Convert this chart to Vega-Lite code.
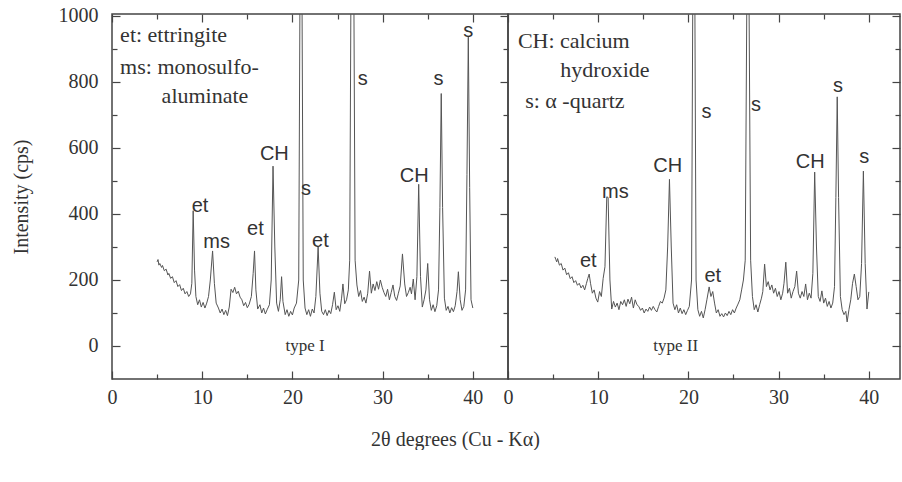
{
  "$schema": "https://vega.github.io/schema/vega-lite/v6.json",
  "background": "white",
  "padding": {"left": 10, "top": 5, "right": 0, "bottom": 0},
  "bounds": "flush",
  "spacing": 0,
  "config": {
    "view": {"stroke": "#444", "strokeWidth": 1.5},
    "axis": {"labelFont": "Liberation Serif", "labelFontSize": 20, "labelColor": "#333", "titleFont": "Liberation Serif", "titleFontSize": 20, "titleFontWeight": "normal", "titleColor": "#333", "domain": false, "grid": false, "tickColor": "#444", "tickWidth": 1.2, "labelFlush": false, "labelOverlap": false}
  },
  "datasets": {
    "t1": [
      {"x":5.0,"y":255},{"x":5.1,"y":262},{"x":5.2,"y":245},{"x":5.3,"y":250},{"x":5.5,"y":238},{"x":5.6,"y":244},{"x":5.8,"y":228},{"x":6.0,"y":233},{"x":6.2,"y":215},{"x":6.3,"y":220},{"x":6.5,"y":205},{"x":6.7,"y":210},{"x":6.9,"y":192},{"x":7.1,"y":198},{"x":7.3,"y":180},{"x":7.5,"y":186},{"x":7.7,"y":168},{"x":7.9,"y":175},{"x":8.1,"y":158},{"x":8.3,"y":165},{"x":8.5,"y":150},{"x":8.7,"y":158},{"x":8.85,"y":190},{"x":9.0,"y":410},{"x":9.15,"y":230},{"x":9.3,"y":150},{"x":9.5,"y":125},{"x":9.7,"y":140},{"x":9.9,"y":118},{"x":10.1,"y":132},{"x":10.3,"y":115},{"x":10.5,"y":130},{"x":10.7,"y":150},{"x":10.9,"y":200},{"x":11.15,"y":288},{"x":11.35,"y":190},{"x":11.55,"y":130},{"x":11.8,"y":115},{"x":12.0,"y":100},{"x":12.2,"y":112},{"x":12.4,"y":95},{"x":12.6,"y":108},{"x":12.8,"y":92},{"x":13.0,"y":118},{"x":13.2,"y":172},{"x":13.4,"y":162},{"x":13.6,"y":178},{"x":13.8,"y":158},{"x":14.0,"y":166},{"x":14.2,"y":148},{"x":14.4,"y":140},{"x":14.6,"y":122},{"x":14.8,"y":132},{"x":15.0,"y":116},{"x":15.2,"y":126},{"x":15.45,"y":150},{"x":15.65,"y":220},{"x":15.8,"y":288},{"x":15.95,"y":170},{"x":16.15,"y":112},{"x":16.4,"y":125},{"x":16.6,"y":100},{"x":16.8,"y":115},{"x":17.0,"y":97},{"x":17.2,"y":110},{"x":17.45,"y":125},{"x":17.65,"y":200},{"x":17.85,"y":545},{"x":18.05,"y":300},{"x":18.25,"y":130},{"x":18.45,"y":105},{"x":18.65,"y":140},{"x":18.8,"y":210},{"x":18.95,"y":135},{"x":19.2,"y":95},{"x":19.4,"y":110},{"x":19.6,"y":90},{"x":19.8,"y":105},{"x":20.0,"y":94},{"x":20.2,"y":115},{"x":20.45,"y":130},{"x":20.7,"y":200},{"x":20.85,"y":1150},{"x":21.05,"y":1150},{"x":21.2,"y":200},{"x":21.4,"y":115},{"x":21.6,"y":95},{"x":21.8,"y":110},{"x":22.0,"y":90},{"x":22.2,"y":112},{"x":22.4,"y":100},{"x":22.6,"y":150},{"x":22.85,"y":300},{"x":23.05,"y":160},{"x":23.25,"y":105},{"x":23.45,"y":95},{"x":23.65,"y":110},{"x":23.85,"y":92},{"x":24.05,"y":108},{"x":24.25,"y":98},{"x":24.45,"y":125},{"x":24.65,"y":163},{"x":24.85,"y":110},{"x":25.05,"y":122},{"x":25.25,"y":105},{"x":25.45,"y":145},{"x":25.6,"y":188},{"x":25.8,"y":128},{"x":26.0,"y":140},{"x":26.2,"y":170},{"x":26.35,"y":260},{"x":26.5,"y":1150},{"x":26.8,"y":1150},{"x":26.95,"y":260},{"x":27.15,"y":185},{"x":27.35,"y":150},{"x":27.55,"y":168},{"x":27.75,"y":135},{"x":27.95,"y":148},{"x":28.15,"y":130},{"x":28.35,"y":160},{"x":28.55,"y":227},{"x":28.75,"y":160},{"x":28.95,"y":188},{"x":29.15,"y":168},{"x":29.35,"y":195},{"x":29.55,"y":172},{"x":29.75,"y":200},{"x":29.95,"y":178},{"x":30.15,"y":162},{"x":30.35,"y":150},{"x":30.55,"y":172},{"x":30.75,"y":140},{"x":30.95,"y":162},{"x":31.15,"y":185},{"x":31.35,"y":150},{"x":31.55,"y":138},{"x":31.75,"y":160},{"x":31.95,"y":182},{"x":32.2,"y":279},{"x":32.45,"y":188},{"x":32.65,"y":150},{"x":32.85,"y":162},{"x":33.05,"y":178},{"x":33.2,"y":158},{"x":33.4,"y":203},{"x":33.6,"y":140},{"x":33.8,"y":210},{"x":34.0,"y":490},{"x":34.2,"y":210},{"x":34.4,"y":118},{"x":34.6,"y":140},{"x":34.8,"y":170},{"x":35.0,"y":250},{"x":35.2,"y":140},{"x":35.4,"y":108},{"x":35.6,"y":125},{"x":35.8,"y":104},{"x":36.0,"y":122},{"x":36.2,"y":170},{"x":36.35,"y":420},{"x":36.5,"y":765},{"x":36.65,"y":420},{"x":36.85,"y":145},{"x":37.05,"y":108},{"x":37.25,"y":120},{"x":37.45,"y":100},{"x":37.65,"y":116},{"x":37.85,"y":104},{"x":38.05,"y":122},{"x":38.25,"y":165},{"x":38.4,"y":225},{"x":38.6,"y":140},{"x":38.8,"y":108},{"x":39.0,"y":120},{"x":39.2,"y":170},{"x":39.35,"y":520},{"x":39.5,"y":936},{"x":39.65,"y":480},{"x":39.8,"y":140},{"x":40.0,"y":115}
    ],
    "t2": [
      {"x":5.2,"y":270},{"x":5.3,"y":262},{"x":5.4,"y":255},{"x":5.5,"y":265},{"x":5.7,"y":245},{"x":5.9,"y":250},{"x":6.1,"y":230},{"x":6.3,"y":236},{"x":6.5,"y":216},{"x":6.7,"y":222},{"x":6.9,"y":204},{"x":7.1,"y":210},{"x":7.3,"y":192},{"x":7.5,"y":198},{"x":7.7,"y":184},{"x":7.9,"y":190},{"x":8.1,"y":176},{"x":8.3,"y":184},{"x":8.5,"y":170},{"x":8.7,"y":190},{"x":8.85,"y":205},{"x":9.0,"y":218},{"x":9.15,"y":190},{"x":9.35,"y":160},{"x":9.55,"y":170},{"x":9.75,"y":145},{"x":9.95,"y":133},{"x":10.15,"y":165},{"x":10.35,"y":150},{"x":10.55,"y":205},{"x":10.75,"y":240},{"x":10.95,"y":452},{"x":11.1,"y":450},{"x":11.3,"y":200},{"x":11.5,"y":112},{"x":11.7,"y":135},{"x":11.9,"y":118},{"x":12.1,"y":130},{"x":12.3,"y":110},{"x":12.5,"y":135},{"x":12.7,"y":125},{"x":12.9,"y":140},{"x":13.1,"y":120},{"x":13.3,"y":142},{"x":13.5,"y":128},{"x":13.7,"y":148},{"x":13.9,"y":115},{"x":14.1,"y":140},{"x":14.3,"y":125},{"x":14.5,"y":120},{"x":14.7,"y":108},{"x":14.9,"y":115},{"x":15.1,"y":100},{"x":15.3,"y":112},{"x":15.5,"y":105},{"x":15.7,"y":118},{"x":15.9,"y":108},{"x":16.1,"y":120},{"x":16.3,"y":110},{"x":16.5,"y":103},{"x":16.7,"y":120},{"x":16.9,"y":135},{"x":17.1,"y":130},{"x":17.3,"y":145},{"x":17.5,"y":170},{"x":17.7,"y":300},{"x":17.9,"y":505},{"x":18.1,"y":300},{"x":18.3,"y":130},{"x":18.5,"y":110},{"x":18.7,"y":125},{"x":18.9,"y":100},{"x":19.1,"y":115},{"x":19.3,"y":98},{"x":19.5,"y":110},{"x":19.7,"y":95},{"x":19.9,"y":108},{"x":20.1,"y":120},{"x":20.35,"y":200},{"x":20.5,"y":1150},{"x":20.7,"y":1150},{"x":20.85,"y":200},{"x":21.05,"y":110},{"x":21.25,"y":90},{"x":21.45,"y":105},{"x":21.65,"y":85},{"x":21.85,"y":110},{"x":22.05,"y":140},{"x":22.3,"y":179},{"x":22.5,"y":150},{"x":22.7,"y":165},{"x":22.9,"y":130},{"x":23.1,"y":100},{"x":23.3,"y":110},{"x":23.5,"y":90},{"x":23.7,"y":98},{"x":23.9,"y":88},{"x":24.1,"y":100},{"x":24.3,"y":92},{"x":24.5,"y":105},{"x":24.7,"y":95},{"x":24.9,"y":110},{"x":25.1,"y":100},{"x":25.3,"y":115},{"x":25.5,"y":127},{"x":25.7,"y":140},{"x":25.9,"y":170},{"x":26.1,"y":200},{"x":26.3,"y":260},{"x":26.5,"y":1150},{"x":26.7,"y":1150},{"x":26.9,"y":260},{"x":27.1,"y":150},{"x":27.3,"y":110},{"x":27.5,"y":125},{"x":27.7,"y":103},{"x":27.9,"y":125},{"x":28.1,"y":145},{"x":28.25,"y":165},{"x":28.45,"y":248},{"x":28.65,"y":180},{"x":28.85,"y":195},{"x":29.05,"y":170},{"x":29.25,"y":185},{"x":29.45,"y":160},{"x":29.65,"y":175},{"x":29.85,"y":150},{"x":30.05,"y":165},{"x":30.25,"y":140},{"x":30.45,"y":160},{"x":30.6,"y":190},{"x":30.8,"y":254},{"x":31.0,"y":160},{"x":31.2,"y":175},{"x":31.4,"y":145},{"x":31.6,"y":165},{"x":31.8,"y":180},{"x":32.0,"y":227},{"x":32.2,"y":160},{"x":32.4,"y":145},{"x":32.6,"y":165},{"x":32.8,"y":150},{"x":33.0,"y":188},{"x":33.2,"y":140},{"x":33.4,"y":160},{"x":33.6,"y":145},{"x":33.8,"y":220},{"x":34.0,"y":527},{"x":34.2,"y":300},{"x":34.4,"y":150},{"x":34.6,"y":135},{"x":34.8,"y":167},{"x":35.0,"y":130},{"x":35.2,"y":145},{"x":35.4,"y":120},{"x":35.6,"y":135},{"x":35.8,"y":115},{"x":36.0,"y":130},{"x":36.2,"y":180},{"x":36.35,"y":450},{"x":36.5,"y":755},{"x":36.65,"y":450},{"x":36.85,"y":150},{"x":37.05,"y":110},{"x":37.25,"y":95},{"x":37.45,"y":105},{"x":37.6,"y":73},{"x":37.8,"y":110},{"x":38.0,"y":140},{"x":38.2,"y":190},{"x":38.4,"y":218},{"x":38.6,"y":180},{"x":38.8,"y":140},{"x":39.0,"y":150},{"x":39.2,"y":250},{"x":39.4,"y":530},{"x":39.6,"y":250},{"x":39.8,"y":112},{"x":40.0,"y":164}
    ],
    "p1": [
      {"x":9.76,"y":424,"t":"et"},{"x":11.6,"y":315,"t":"ms"},{"x":15.9,"y":355,"t":"et"},{"x":18.0,"y":582,"t":"CH"},{"x":21.5,"y":476,"t":"s"},{"x":23.1,"y":318,"t":"et"},{"x":27.8,"y":809,"t":"s"},{"x":33.5,"y":515,"t":"CH"},{"x":36.2,"y":809,"t":"s"},{"x":39.5,"y":955,"t":"s"}
    ],
    "p2": [
      {"x":8.9,"y":258,"t":"et"},{"x":11.9,"y":467,"t":"ms"},{"x":17.7,"y":545,"t":"CH"},{"x":22.0,"y":709,"t":"s"},{"x":22.7,"y":212,"t":"et"},{"x":27.5,"y":730,"t":"s"},{"x":33.5,"y":557,"t":"CH"},{"x":36.6,"y":788,"t":"s"},{"x":39.5,"y":573,"t":"s"}
    ],
    "l1": [
      {"x":0.9,"y":942,"t":"et: ettringite"},{"x":0.9,"y":845,"t":"ms: monosulfo-"},{"x":5.5,"y":758,"t":"aluminate"}
    ],
    "l2": [
      {"x":1.1,"y":924,"t":"CH: calcium"},{"x":5.8,"y":836,"t":"hydroxide"},{"x":1.9,"y":742,"t":"s: α -quartz"}
    ],
    "n1": [{"x":21.4,"y":0,"t":"type I"}],
    "n2": [{"x":18.6,"y":0,"t":"type II"}]
  },
  "hconcat": [
    {
      "width": 396,
      "height": 365,
      "layer": [
        {
          "data": {"name": "t1"},
          "mark": {"type": "line", "color": "#555", "strokeWidth": 1, "clip": true},
          "encoding": {
            "x": {"field": "x", "type": "quantitative", "scale": {"domain": [0, 43.9], "nice": false, "zero": false},
              "axis": {"orient": "bottom", "title": "2θ degrees (Cu - Kα)", "titleX": 343, "titleY": 60, "titleAlign": "center", "titleBaseline": "middle", "values": [0,5,10,15,20,25,30,35,40], "labelExpr": "datum.value % 10 === 0 ? datum.label : ''", "tickSize": {"condition": {"test": "datum.value % 10 === 0", "value": -8}, "value": -5}, "labelPadding": 16}},
            "y": {"field": "y", "type": "quantitative", "scale": {"domain": [-100, 1006], "nice": false, "zero": false},
              "axis": {"orient": "left", "title": "Intensity (cps)", "format": "d", "values": [0,100,200,300,400,500,600,700,800,900,1000], "labelExpr": "datum.value % 200 === 0 ? datum.label : ''", "tickSize": {"condition": {"test": "datum.value % 200 === 0", "value": -8}, "value": -5}, "labelPadding": 22, "titlePadding": 27}}
          }
        },
        {
          "data": {"name": "t1"},
          "mark": {"type": "line", "opacity": 0, "clip": true},
          "encoding": {
            "x": {"field": "x", "type": "quantitative", "axis": {"orient": "top", "title": null, "labels": false, "values": [0,5,10,15,20,25,30,35,40], "tickSize": {"condition": {"test": "datum.value % 10 === 0", "value": -8}, "value": -5}}},
            "y": {"field": "y", "type": "quantitative", "axis": {"orient": "right", "title": null, "labels": false, "values": [0,100,200,300,400,500,600,700,800,900,1000], "tickSize": {"condition": {"test": "datum.value % 200 === 0", "value": -8}, "value": -5}}}
          }
        },
        {
          "data": {"name": "p1"},
          "mark": {"type": "text", "font": "Liberation Sans", "fontSize": 20, "color": "#333", "align": "center", "baseline": "middle"},
          "encoding": {
            "x": {"field": "x", "type": "quantitative", "axis": null},
            "y": {"field": "y", "type": "quantitative", "axis": null},
            "text": {"field": "t"}
          }
        },
        {
          "data": {"name": "l1"},
          "mark": {"type": "text", "font": "Liberation Serif", "fontSize": 22, "color": "#333", "align": "left", "baseline": "middle"},
          "encoding": {
            "x": {"field": "x", "type": "quantitative", "axis": null},
            "y": {"field": "y", "type": "quantitative", "axis": null},
            "text": {"field": "t"}
          }
        },
        {
          "data": {"name": "n1"},
          "mark": {"type": "text", "font": "Liberation Serif", "fontSize": 17, "color": "#333", "align": "center", "baseline": "middle"},
          "encoding": {
            "x": {"field": "x", "type": "quantitative", "axis": null},
            "y": {"field": "y", "type": "quantitative", "axis": null},
            "text": {"field": "t"}
          }
        }
      ],
      "resolve": {"axis": {"x": "independent", "y": "independent"}}
    },
    {
      "width": 392,
      "height": 365,
      "layer": [
        {
          "data": {"name": "t2"},
          "mark": {"type": "line", "color": "#555", "strokeWidth": 1, "clip": true},
          "encoding": {
            "x": {"field": "x", "type": "quantitative", "scale": {"domain": [0, 43.46], "nice": false, "zero": false},
              "axis": {"orient": "bottom", "title": null, "values": [0,5,10,15,20,25,30,35,40], "labelExpr": "datum.value % 10 === 0 ? datum.label : ''", "tickSize": {"condition": {"test": "datum.value % 10 === 0", "value": -8}, "value": -5}, "labelPadding": 16}},
            "y": {"field": "y", "type": "quantitative", "scale": {"domain": [-100, 1006], "nice": false, "zero": false},
              "axis": {"orient": "right", "title": null, "labels": false, "values": [0,100,200,300,400,500,600,700,800,900,1000], "tickSize": {"condition": {"test": "datum.value % 200 === 0", "value": -8}, "value": -5}}}
          }
        },
        {
          "data": {"name": "t2"},
          "mark": {"type": "line", "opacity": 0, "clip": true},
          "encoding": {
            "x": {"field": "x", "type": "quantitative", "axis": {"orient": "top", "title": null, "labels": false, "values": [0,5,10,15,20,25,30,35,40], "tickSize": {"condition": {"test": "datum.value % 10 === 0", "value": -8}, "value": -5}}},
            "y": {"field": "y", "type": "quantitative", "axis": null}
          }
        },
        {
          "data": {"name": "p2"},
          "mark": {"type": "text", "font": "Liberation Sans", "fontSize": 20, "color": "#333", "align": "center", "baseline": "middle"},
          "encoding": {
            "x": {"field": "x", "type": "quantitative", "axis": null},
            "y": {"field": "y", "type": "quantitative", "axis": null},
            "text": {"field": "t"}
          }
        },
        {
          "data": {"name": "l2"},
          "mark": {"type": "text", "font": "Liberation Serif", "fontSize": 22, "color": "#333", "align": "left", "baseline": "middle"},
          "encoding": {
            "x": {"field": "x", "type": "quantitative", "axis": null},
            "y": {"field": "y", "type": "quantitative", "axis": null},
            "text": {"field": "t"}
          }
        },
        {
          "data": {"name": "n2"},
          "mark": {"type": "text", "font": "Liberation Serif", "fontSize": 17, "color": "#333", "align": "center", "baseline": "middle"},
          "encoding": {
            "x": {"field": "x", "type": "quantitative", "axis": null},
            "y": {"field": "y", "type": "quantitative", "axis": null},
            "text": {"field": "t"}
          }
        }
      ],
      "resolve": {"axis": {"x": "independent", "y": "independent"}}
    }
  ]
}
